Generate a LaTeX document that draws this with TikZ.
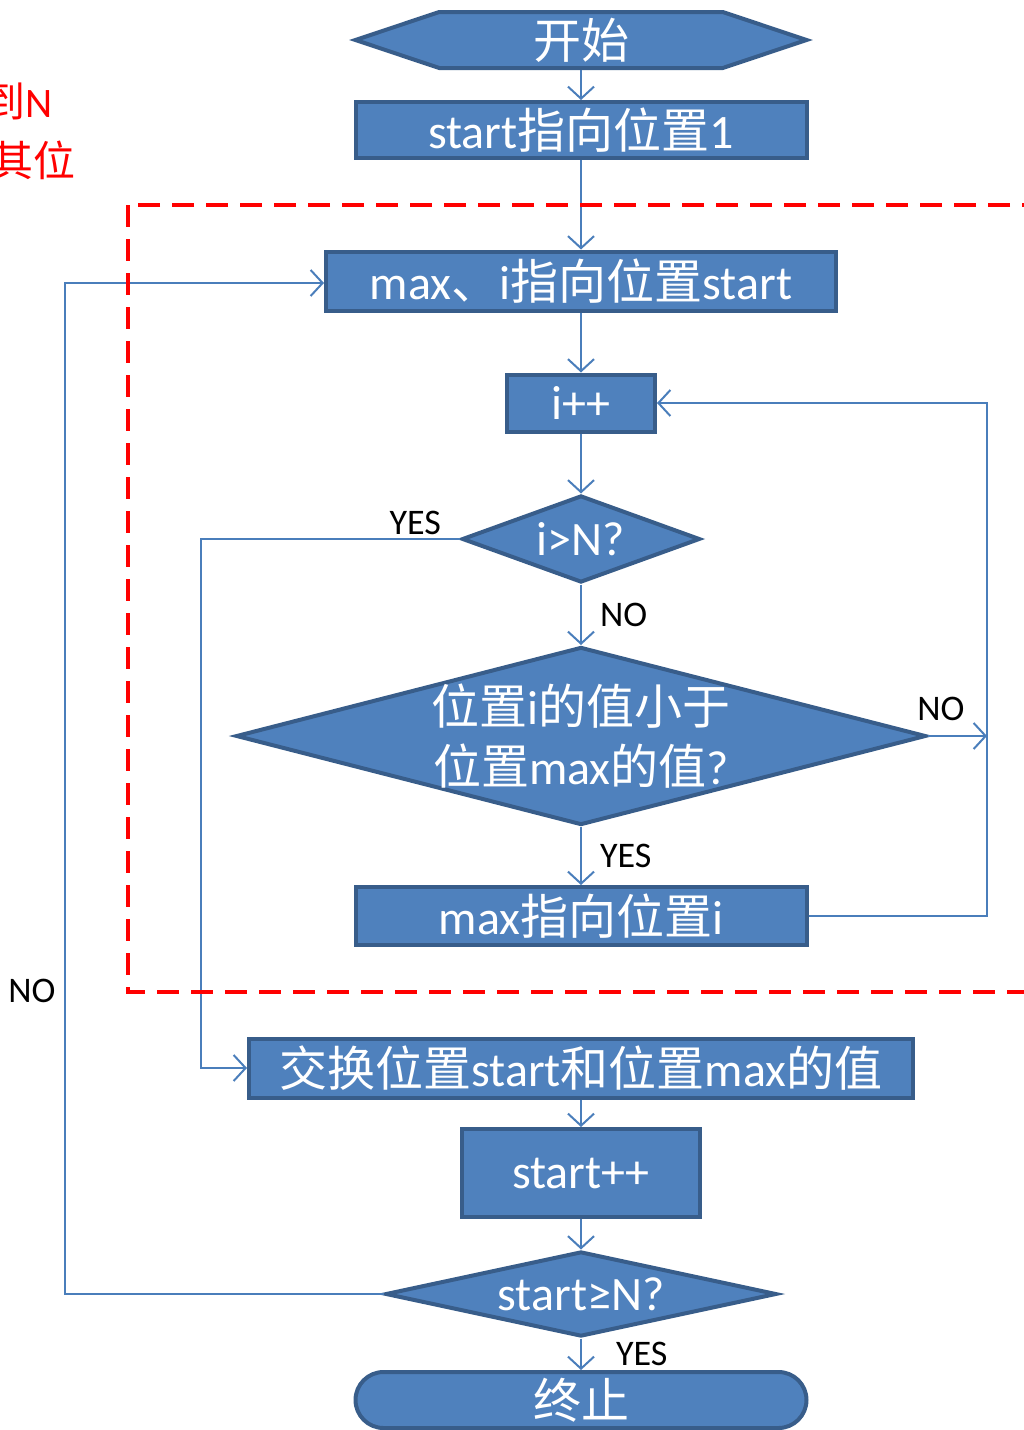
\documentclass[tikz,border=0pt]{standalone}
\usepackage{fontspec}
\setmainfont{Carlito}
\newfontfamily\cjk{Noto Sans CJK SC}
\newcommand{\zh}[1]{{\cjk #1}}
\usetikzlibrary{shapes.geometric,shapes.misc,shapes.symbols,arrows.meta}
\definecolor{boxfill}{HTML}{4F81BD}
\definecolor{boxline}{HTML}{385D8A}
\definecolor{linkcol}{HTML}{4A7EBB}
\tikzset{
  block/.style={draw=boxline, fill=boxfill, line width=4pt, text=white,
    inner sep=0pt, font=\fontsize{48}{60}\selectfont},
  proc/.style={block, rectangle, minimum width=#1},
  decision/.style={block, diamond, minimum width=#1},
  dlabel/.style={text=white, inner sep=0pt, align=center,
    font=\fontsize{48}{60}\selectfont},
  link/.style={draw=linkcol, line width=2pt,
    -{Straight Barb[length=12pt,width=26pt]}},
  tag/.style={text=black, inner sep=0pt, font=\fontsize{36}{40}\selectfont},
  note/.style={text=red, inner sep=0pt, font=\fontsize{42}{50}\selectfont},
  region/.style={draw=red, line width=4pt, dash pattern=on 22pt off 12pt}
}

\begin{document}
\begin{tikzpicture}[x=1pt,y=-1pt]
	\useasboundingbox (0,0) rectangle (1023,1430);
	% hint text, cut at the left edge
	\node[note, anchor=east] (hint1) at (53,101) {\zh{到}N};
	\node[note, anchor=east] (hint2) at (76,160) {\zh{其位}};
	%
	\node[block, signal, signal to=west and east, signal pointer angle=37,
	  minimum width=451, minimum height=56] (begin) at (581,40) {\zh{开始}};
	\node[proc=451, minimum height=56] (init) at (581,130) {start\zh{指向位置}1};
	\node[proc=510, minimum height=59] (reset) at (581,281) {max\zh{、}i\zh{指向位置}start};
	\node[proc=148, minimum height=57] (inc) at (581,403) {i++};
	\node[decision=238, minimum height=87, label={[dlabel]center:i>N?}] (test) at (581,539) {};
	\node[decision=690, minimum height=178,
	  label={[dlabel]center:\zh{位置}i\zh{的值小于}\\\zh{位置}max\zh{的值}?}] (cmp) at (581,736) {};
	\node[proc=451, minimum height=58] (setmax) at (581,916) {max\zh{指向位置}i};
	\node[proc=664, minimum height=59] (swap) at (581,1068) {\zh{交换位置}start\zh{和位置}max\zh{的值}};
	\node[proc=238, minimum height=88] (next) at (581,1173) {start++};
	\node[decision=391, minimum height=85, label={[dlabel]center:start≥N?}] (fin) at (581,1294) {};
	\node[block, rounded rectangle, minimum width=451, minimum height=56] (stop) at (581,1400) {\zh{终止}};
	\coordinate (loop) at (987,736);
	%
	\draw[link] (begin) -- (init);
	\draw[link] (init) -- (reset);
	\draw[link] (reset) -- (inc);
	\draw[link] (inc) -- (test);
	\draw[link] (test) -- node[tag, midway, right=18pt] {NO} (cmp);
	\draw[link] (test.west) -- ++(-259,0) node[tag, pos=0, anchor=south east, xshift=-18pt, yshift=3pt] {YES}
	  |- (swap.west);
	\draw[link] (cmp) -- node[tag, midway, right=18pt] {YES} (setmax);
	\draw[link] (cmp.east) -- (loop) node[tag, pos=0.22, above=14pt] {NO};
	\draw[link] (setmax.east) -| (loop) |- (inc.east);
	\draw[link] (swap) -- (next);
	\draw[link] (next) -- (fin);
	\draw[link] (fin) -- node[tag, midway, right=34pt] {YES} (stop);
	\draw[link] (fin.west) -- ++(-319,0) |- node[tag, pos=0.15, left=8pt] {NO} ([yshift=-2pt]reset.west);
	%
	\draw[region] (128,205) rectangle (1040,992);
\end{tikzpicture}
\end{document}
